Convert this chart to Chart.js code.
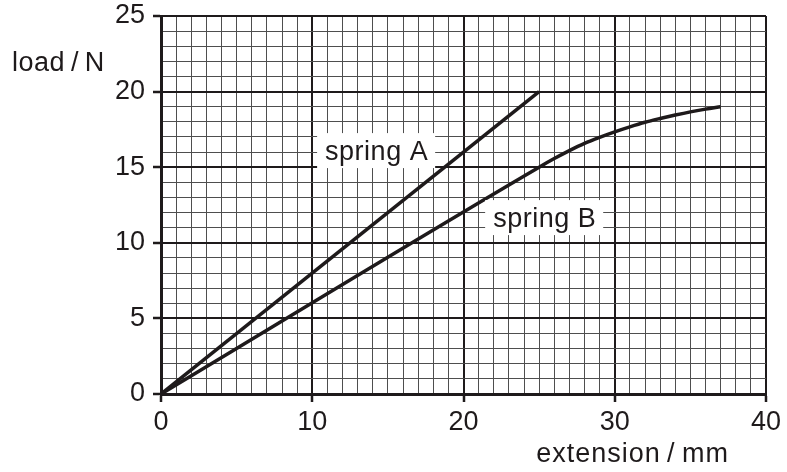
<!DOCTYPE html>
<html>
<head>
<meta charset="utf-8">
<script src="https://cdn.jsdelivr.net/npm/chart.js@4.4.1/dist/chart.umd.min.js"></script>
<style>
  html, body { margin: 0; padding: 0; background: #ffffff; }
  #wrap { width: 787px; height: 472px; }
</style>
</head>
<body>
<div id="wrap"><canvas id="c" width="787" height="472"></canvas></div>
<script>
// ---- data ----
const springA_x = [0, 25];
const springA_y = [0, 20];
const springB_x = [0, 25, 26, 27, 28, 29, 30, 31, 32, 33, 34, 35, 36, 37];
const springB_y = [0, 15, 15.57, 16.1, 16.58, 16.98, 17.34, 17.67, 17.97, 18.22, 18.45, 18.66, 18.84, 19.0];
const xMin = 0, xMax = 40, xStep = 1, xLabelEvery = 10;
const yMin = 0, yMax = 25, yStep = 1, yLabelEvery = 5;
const xTitle = 'extension\u2009/\u2009mm';
const yTitle = 'load\u2009/\u2009N';
const labelTexts = ['spring A', 'spring B'];
const labelAt = [[10.85, 15.47], [21.96, 11.04]];

const INK = '#1e1a1b';
const MINOR = '#4e4e4e';
const FONT = 'Liberation Sans, Arial, Helvetica, sans-serif';

const toPts = (xs, ys) => xs.map((x, i) => ({ x: x, y: ys[i] }));

const textPlugin = {
  id: 'texts',
  afterDatasetsDraw(chart) {
    const { ctx, chartArea, scales } = chart;
    ctx.save();
    ctx.fillStyle = INK;
    ctx.textBaseline = 'alphabetic';
    ctx.letterSpacing = '0.5px';
    // spring labels with white boxes
    ctx.font = '27px ' + FONT;
    labelTexts.forEach((t, i) => {
      const px = scales.x.getPixelForValue(labelAt[i][0]);
      const py = scales.y.getPixelForValue(labelAt[i][1]);
      const w = ctx.measureText(t).width;
      ctx.fillStyle = '#ffffff';
      ctx.fillRect(px - 8, py - 27, w + 15, 35);
      ctx.fillStyle = INK;
      ctx.textAlign = 'left';
      ctx.fillText(t, px, py);
    });
    // axis titles
    ctx.textAlign = 'left';
    ctx.fillText(yTitle, chartArea.left - 149, chartArea.top + 55);
    ctx.letterSpacing = '1px';
    ctx.textAlign = 'right';
    ctx.fillText(xTitle, chartArea.right - 37, chartArea.bottom + 68);
    ctx.restore();
  }
};

new Chart(document.getElementById('c'), {
  type: 'scatter',
  data: {
    datasets: [
      { data: toPts(springA_x, springA_y), showLine: true, borderColor: INK, borderWidth: 3.5, pointRadius: 0, tension: 0 },
      { data: toPts(springB_x, springB_y), showLine: true, borderColor: INK, borderWidth: 3.5, pointRadius: 0, tension: 0.4, cubicInterpolationMode: 'monotone' }
    ]
  },
  options: {
    responsive: false,
    animation: false,
    devicePixelRatio: 1,
    layout: { padding: { left: 0, right: 21, top: 16, bottom: 0 } },
    plugins: { legend: { display: false }, tooltip: { enabled: false } },
    scales: {
      x: {
        type: 'linear', min: xMin, max: xMax,
        afterFit(s) { s.height = 78; s.paddingLeft = 0; s.paddingRight = 0; },
        ticks: {
          stepSize: xStep, autoSkip: false, maxRotation: 0, padding: 4,
          color: INK, font: { family: FONT, size: 27 },
          callback: v => (v % xLabelEvery === 0 ? v : '')
        },
        grid: {
          color: c => (c.tick && c.tick.value % xLabelEvery === 0 ? INK : MINOR),
          lineWidth: c => (c.tick && c.tick.value % xLabelEvery === 0 ? 2 : 1),
          tickColor: c => (c.tick && c.tick.value % xLabelEvery === 0 ? INK : 'rgba(0,0,0,0)'),
          tickLength: 8, tickWidth: 2.5
        },
        border: { color: INK, width: 3 }
      },
      y: {
        type: 'linear', min: yMin, max: yMax,
        afterFit(s) { s.width = 161; s.paddingTop = 0; s.paddingBottom = 0; },
        ticks: {
          stepSize: yStep, autoSkip: false, padding: 8,
          color: INK, font: { family: FONT, size: 27 },
          callback: v => (v % yLabelEvery === 0 ? v : '')
        },
        grid: {
          color: c => (c.tick && c.tick.value % yLabelEvery === 0 ? INK : MINOR),
          lineWidth: c => (c.tick && c.tick.value % yLabelEvery === 0 ? 2 : 1),
          tickColor: c => (c.tick && c.tick.value % yLabelEvery === 0 ? INK : 'rgba(0,0,0,0)'),
          tickLength: 8, tickWidth: 2.5
        },
        border: { color: INK, width: 3 }
      }
    }
  },
  plugins: [textPlugin]
});
</script>
</body>
</html>
